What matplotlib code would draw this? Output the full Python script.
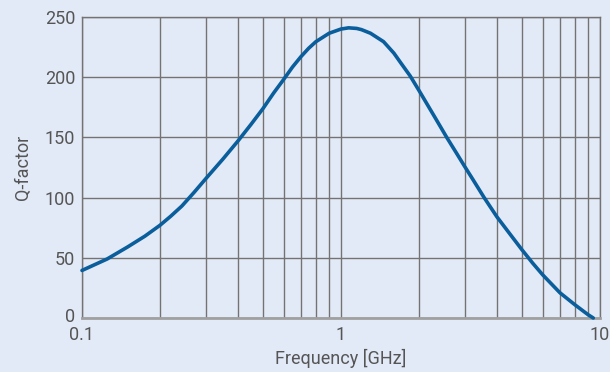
import matplotlib
matplotlib.use("Agg")
import matplotlib.pyplot as plt
import matplotlib.transforms as mtransforms
from matplotlib.ticker import FixedLocator, FixedFormatter, NullFormatter

plt.rcParams["font.family"] = ["Roboto", "DejaVu Sans"]

freq_ghz = [0.1, 0.125, 0.15, 0.175, 0.2, 0.22, 0.243, 0.27, 0.3, 0.35, 0.4, 0.45, 0.5, 0.55,
            0.6, 0.65, 0.7, 0.75, 0.8, 0.9, 1.0, 1.07, 1.15, 1.2, 1.3, 1.46, 1.6, 1.7, 1.85, 2.0, 2.3,
            2.56, 2.8, 3.0, 3.24, 3.57, 4.0, 4.5, 5.0, 5.5, 6.0, 7.0, 8.0, 9.0, 9.42]
q_factor = [39.5, 49, 59, 68, 77, 84.5, 93, 104, 115.5, 132, 147, 161, 174, 187,
            198, 208.5, 217, 224, 229.5, 236.5, 240, 241, 240.5, 239.5, 236.5, 229.5, 220, 212, 201, 189, 167,
            150, 136.5, 126, 114.6, 100, 84, 69.5, 56.6, 45.5, 36, 21, 11, 2.7, 0]

x_major = [0.1, 1, 10]
x_major_labels = ["0.1", "1", "10"]
x_minor = [0.2, 0.3, 0.4, 0.5, 0.6, 0.7, 0.8, 0.9, 2, 3, 4, 5, 6, 7, 8, 9]
y_ticks = [0, 50, 100, 150, 200, 250]

bg = "#e3eaf7"
grid_c = "#737373"
text_c = "#555555"
line_c = "#0a5e9c"

fig = plt.figure(figsize=(6.1, 3.72), dpi=100, facecolor=bg)
ax = fig.add_axes([82/610, 54/372, 518/610, 301/372], facecolor=bg)

ax.set_xscale("log")
ax.set_xlim(0.1, 10)
ax.set_ylim(0, 250)

ax.xaxis.set_major_locator(FixedLocator(x_major))
ax.xaxis.set_major_formatter(FixedFormatter(x_major_labels))
ax.xaxis.set_minor_locator(FixedLocator(x_minor))
ax.xaxis.set_minor_formatter(NullFormatter())
ax.set_yticks(y_ticks)

ax.grid(True, which="both", axis="x", color=grid_c, linewidth=1.0)
ax.grid(True, which="major", axis="y", color=grid_c, linewidth=1.0)
ax.set_axisbelow(True)

ax.tick_params(which="both", length=0, colors=text_c, labelsize=13)
ax.tick_params(axis="x", pad=6)
ax.tick_params(axis="y", pad=5)

# raise the "0" label slightly, as in the reference
zero_lbl = ax.get_yticklabels()[0]
zero_lbl.set_transform(zero_lbl.get_transform() +
                       mtransforms.ScaledTranslation(0, 3/100, fig.dpi_scale_trans))

for s in ["top", "right"]:
    ax.spines[s].set_color(grid_c)
    ax.spines[s].set_linewidth(1.0)
ax.spines["left"].set_color(grid_c)
ax.spines["left"].set_linewidth(1.0)
ax.spines["bottom"].set_color("#a0a0a0")
ax.spines["bottom"].set_linewidth(2.0)

ax.plot(freq_ghz, q_factor, color=line_c, linewidth=2.6, solid_capstyle="round",
        solid_joinstyle="round", zorder=3, clip_on=False)

ax.set_xlabel("Frequency [GHz]", color=text_c, fontsize=13, labelpad=3)
ax.set_ylabel("Q-factor", color=text_c, fontsize=13, labelpad=9)

fig.savefig("out.png", dpi=100, facecolor=bg)
